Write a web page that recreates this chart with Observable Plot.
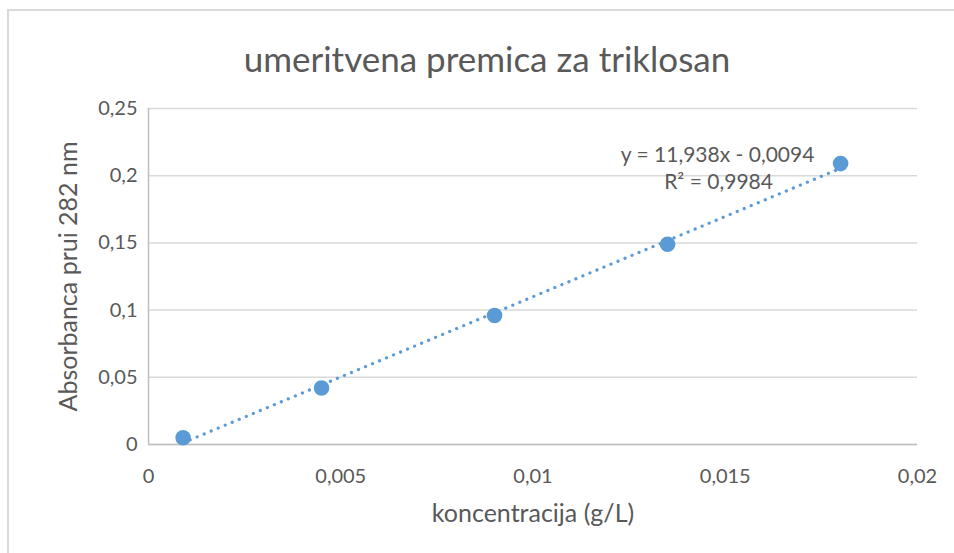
<!DOCTYPE html>
<html>
<head>
<meta charset="utf-8">
<script src="https://cdn.jsdelivr.net/npm/d3@7"></script>
<script src="https://cdn.jsdelivr.net/npm/@observablehq/plot@0.6"></script>
<style>
  html, body { margin: 0; padding: 0; background: #fff; }
  #wrap { position: relative; width: 954px; height: 553px; overflow: hidden; font-family: Lato, "Open Sans", sans-serif; }
  #frame { position: absolute; left: 7px; top: 9px; right: -10px; bottom: -10px; border-left: 2px solid #d9d9d9; border-top: 2px solid #d9d9d9; }
  #title { position: absolute; left: 0; top: 36px; width: 974px; text-align: center; font-size: 35px; line-height: 44px; color: #595959; }
  #chart { position: absolute; left: 0; top: 0; }
</style>
</head>
<body>
<div id="wrap">
  <div id="frame"></div>
  <div id="title">umeritvena premica za triklosan</div>
  <div id="chart"></div>
</div>
<script>
const concentration = [0.0009, 0.0045, 0.009, 0.0135, 0.018];
const absorbance = [0.005, 0.042, 0.096, 0.149, 0.209];
const trendX = [0.0009, 0.018];
const trendY = [0.0013, 0.2055];
const xTicks = [0, 0.005, 0.01, 0.015, 0.02];
const yTicks = [0, 0.05, 0.1, 0.15, 0.2, 0.25];
const equationLines = ["y = 11,938x - 0,0094", "R² = 0,9984"];
const xLabel = "koncentracija (g/L)";
const yLabel = "Absorbanca prui 282 nm";

const points = concentration.map((x, i) => ({x, y: absorbance[i]}));
const trend = trendX.map((x, i) => ({x, y: trendY[i]}));
const last = points[points.length - 1];
const fmt = d => String(d).replace(".", ",");
const blue = "#5b9bd5";
const grey = "#595959";

const plot = Plot.plot({
  width: 954,
  height: 553,
  marginLeft: 148,
  marginRight: 37,
  marginTop: 108,
  marginBottom: 109,
  style: {fontFamily: "Lato, 'Open Sans', sans-serif", fontSize: "20px", color: grey, background: "transparent"},
  x: {domain: [0, 0.02], ticks: xTicks, tickFormat: fmt, tickSize: 0, tickPadding: 24, label: null},
  y: {domain: [0, 0.25], ticks: yTicks, tickFormat: fmt, tickSize: 0, tickPadding: 11, label: null},
  marks: [
    Plot.gridY(yTicks, {stroke: "#d9d9d9", strokeOpacity: 1, strokeWidth: 1.5}),
    Plot.ruleX([0], {stroke: "#bfbfbf", strokeWidth: 1.5}),
    Plot.ruleY([0], {stroke: "#bfbfbf", strokeWidth: 1.5}),
    Plot.axisX({ticks: xTicks, tickFormat: fmt, tickSize: 0, tickPadding: 24, label: null, fontSize: 20}),
    Plot.axisY({ticks: yTicks, tickFormat: fmt, tickSize: 0, tickPadding: 11, label: null, fontSize: 20}),
    Plot.line(trend, {x: "x", y: "y", stroke: blue, strokeWidth: 3.2, strokeDasharray: "0.1 7.5", strokeLinecap: "round"}),
    Plot.dot(points, {x: "x", y: "y", r: 7.8, fill: blue, stroke: "none"}),
    Plot.text([last], {x: "x", y: "y", text: () => equationLines[0], dx: -123, dy: -8, fontSize: 21, fill: grey}),
    Plot.text([last], {x: "x", y: "y", text: () => equationLines[1], dx: -122, dy: 19, fontSize: 21, fill: grey}),
    Plot.text([xLabel], {frameAnchor: "bottom", dy: 77, text: d => d, fontSize: 25, fill: grey}),
    Plot.text([yLabel], {frameAnchor: "left", dx: -80, rotate: -90, textAnchor: "middle", text: d => d, fontSize: 25, fill: grey})
  ]
});
document.getElementById("chart").appendChild(plot);
</script>
</body>
</html>
